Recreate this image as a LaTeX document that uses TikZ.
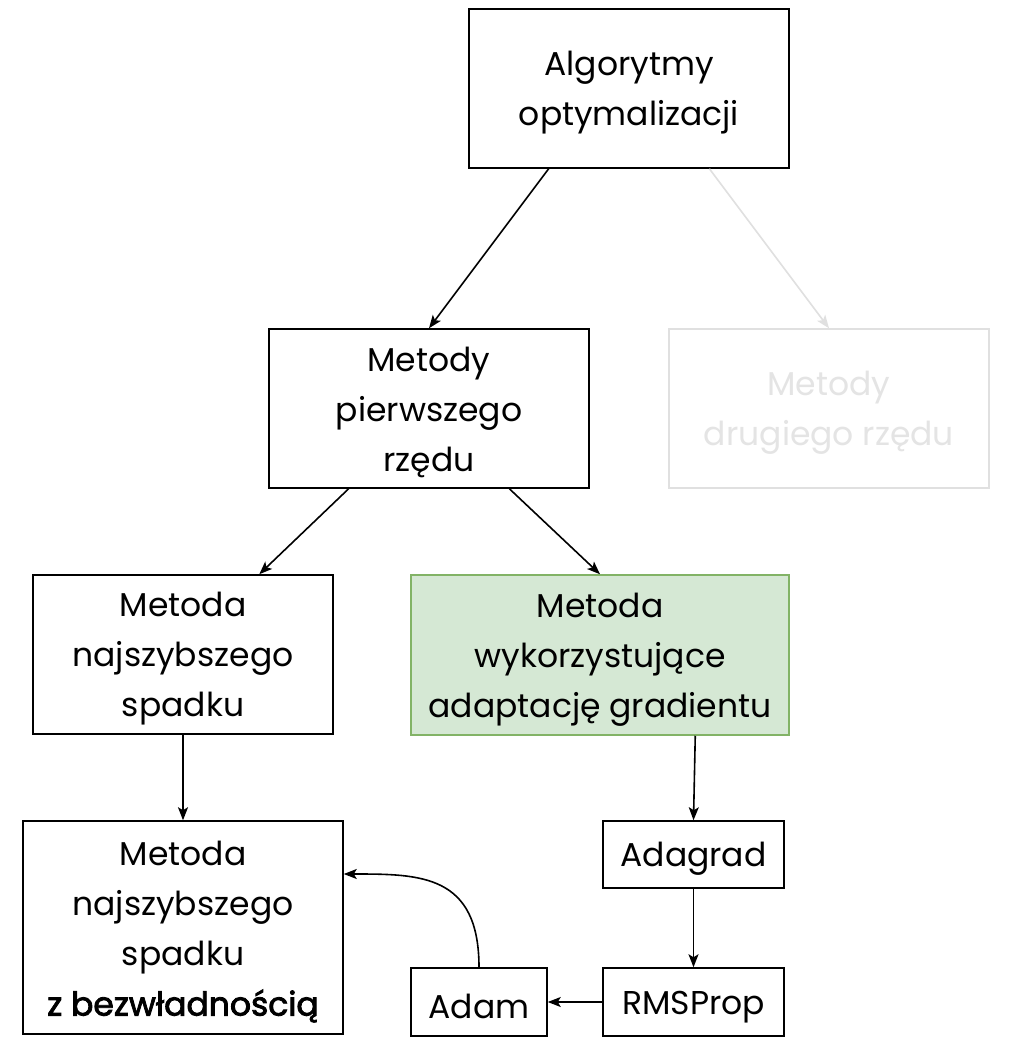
\documentclass[tikz,border=0pt]{standalone}
\usepackage{fontspec}
\setmainfont{Poppins}
\newfontfamily\heavier[FakeBold=2.5]{Poppins}
\usetikzlibrary{calc,arrows.meta}
\definecolor{faint}{HTML}{E0E0E0}
\definecolor{faintText}{HTML}{E4E4E4}
\definecolor{greenFill}{HTML}{D5E8D4}
\definecolor{greenLine}{HTML}{82B366}
% taller first line so the text block sits a little lower in its box
\newcommand{\tallstrut}{\rule{0pt}{33pt}}
\begin{document}
\begin{tikzpicture}[x=1pt,y=-1pt,
  box/.style={draw=black,line width=1.5pt,align=center,inner sep=0pt,
    font=\fontsize{33}{50}\selectfont},
  ghost/.style={box,draw=faint,text=faintText},
  arr/.style={line width=1.6pt,-{Stealth[length=13pt,width=10pt,inset=3pt]}},
  ghostarr/.style={arr,draw=faint}]
\useasboundingbox (0,0) rectangle (1012,1062);
\fill[white] (0,0) rectangle (1012,1062);

\node[box,minimum width=320pt,minimum height=159pt] (alg) at (629,88.5) {\tallstrut Algorytmy\\optymalizacji};
\node[box,minimum width=320pt,minimum height=159pt] (first) at (429,408.5) {\tallstrut Metody\\pierwszego\\rzędu};
\node[ghost,minimum width=320pt,minimum height=159pt] (second) at (829,408.5) {\tallstrut Metody\\drugiego rzędu};
\node[box,minimum width=300pt,minimum height=159pt] (steep) at (183,654.5) {\tallstrut Metoda\\najszybszego\\spadku};
\node[box,fill=greenFill,draw=greenLine,minimum width=378pt,minimum height=160pt] (adapt) at (600,655) {\tallstrut Metoda\\wykorzystujące\\adaptację gradientu};
\node[box,minimum width=320pt,minimum height=213pt] (moment) at (183,927.5) {\tallstrut Metoda\\najszybszego\\spadku\\{\heavier z bezwładnością}};
\node[box,minimum width=181pt,minimum height=67pt] (adagrad) at (693.5,854.5) {\tallstrut Adagrad};
\node[box,minimum width=181pt,minimum height=68pt] (rms) at (693.5,1002) {\tallstrut RMSProp};
\node[box,minimum width=136pt,minimum height=68pt] (adam) at (479,1002) {\tallstrut Adam};

\draw[arr] ($(alg.south west)!0.25!(alg.south east)$) -- (first.north);
\draw[ghostarr] ($(alg.south west)!0.75!(alg.south east)$) -- (second.north);
\draw[arr] ($(first.south west)!0.25!(first.south east)$) -- ($(steep.north west)!0.753!(steep.north east)$);
\draw[arr] ($(first.south west)!0.75!(first.south east)$) -- (adapt.north);
\draw[arr] (steep.south) -- (moment.north);
\draw[arr] ($(adapt.south west)!0.751!(adapt.south east)$) -- (adagrad.north);
\draw[arr] (adagrad.south) -- (rms.north);
\draw[arr] (rms.west) -- (adam.east);
\coordinate (bend) at (479,874);
\draw[arr] (adam.north) .. controls (adam.north |- bend) and (420,874) .. (moment.east |- bend);
\end{tikzpicture}
\end{document}
